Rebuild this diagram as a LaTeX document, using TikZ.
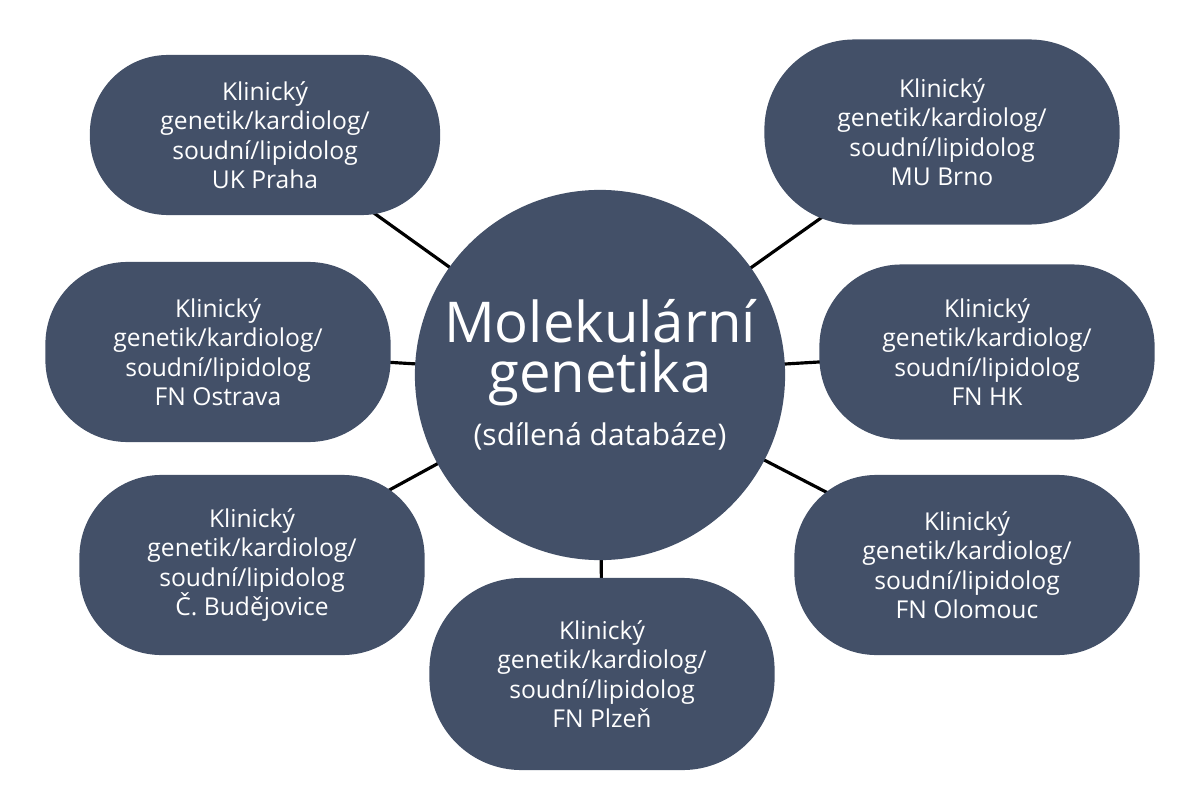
\documentclass[tikz,border=0pt]{standalone}
\usepackage{fontspec}
\setmainfont{Open Sans}
\usetikzlibrary{backgrounds}
\definecolor{slate}{HTML}{435068}
\tikzset{
  site/.style={rectangle, rounded corners=0.82cm, fill=slate, text=white, align=center, inner sep=0pt,
    minimum width=3.45cm, minimum height=1.8cm, font=\fontsize{7}{8.4}\selectfont},
  link/.style={line width=0.9pt, black}
}
\newcommand{\klin}[1]{Klinický\\genetik/kardiolog/\\soudní/lipidolog\\#1}
\begin{document}
\begin{tikzpicture}[x=0.01cm, y=-0.01cm]
        \useasboundingbox (0, 0) rectangle (1187, 800);

        \node[circle, fill=slate, text=white, align=center, minimum size=3.7cm, inner sep=0pt] (mol) at (600, 375)
          {{\fontsize{16}{20}\selectfont Molekulární}\\[1pt]{\fontsize{16}{20}\selectfont genetika}\\[3pt]{\fontsize{8.5}{10}\selectfont (sdílená databáze)}};

        \node[site, minimum width=3.5cm, minimum height=1.6cm, rounded corners=0.78cm] (praha) at (265, 135) {\klin{UK Praha}};
        \node[site, minimum width=3.55cm, minimum height=1.85cm, rounded corners=0.9cm] (brno) at (942, 132) {\klin{MU Brno}};
        \node[site] (ostrava) at (218, 352) {\klin{FN Ostrava}};
        \node[site, minimum width=3.35cm, minimum height=1.75cm] (hk) at (987, 352) {\klin{FN HK}};
        \node[site] (budejovice) at (252, 565) {\klin{Č. Budějovice}};
        \node[site] (olomouc) at (967, 565) {\klin{FN Olomouc}};
        \node[site, minimum height=1.92cm, rounded corners=0.92cm] (plzen) at (602, 674) {\klin{FN Plzeň}};

        \begin{scope}[on background layer]
        \foreach \s in {praha, brno, ostrava, hk, budejovice, olomouc, plzen}
          \draw[link] (mol.center) -- (\s.center);
        \end{scope}
\end{tikzpicture}
\end{document}
